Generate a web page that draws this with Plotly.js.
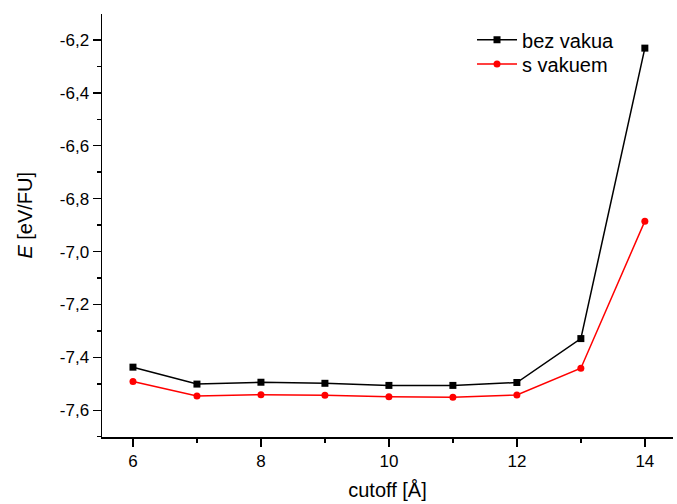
<!DOCTYPE html>
<html>
<head>
<meta charset="utf-8">
<script src="https://cdn.plot.ly/plotly-3.0.1.min.js"></script>
<style>html,body{margin:0;padding:0;background:#fff;}#chart{width:677px;height:504px;}</style>
</head>
<body>
<div id="chart"></div>
<script>
const cutoff = [6, 7, 8, 9, 10, 11, 12, 13, 14];
const bezVakua = [-7.437, -7.501, -7.494, -7.498, -7.506, -7.506, -7.495, -7.329, -6.231];
const sVakuem = [-7.491, -7.546, -7.541, -7.543, -7.549, -7.551, -7.542, -7.441, -6.885];
const yTickVals = [-7.6, -7.4, -7.2, -7.0, -6.8, -6.6, -6.4, -6.2];
const yTickText = ['-7,6', '-7,4', '-7,2', '-7,0', '-6,8', '-6,6', '-6,4', '-6,2'];
const xTickVals = [6, 8, 10, 12, 14];
const xTickText = ['6', '8', '10', '12', '14'];

const xRange = [5.516, 14.44];
const yRange = [-7.701, -6.102];
const font = 'Liberation Sans, Arial, sans-serif';

const traces = [
  {x: cutoff, y: bezVakua, name: 'bez vakua', mode: 'lines+markers', legend: 'legend',
   line: {color: '#000000', width: 1.5}, marker: {symbol: 'square', size: 7, color: '#000000'}},
  {x: cutoff, y: sVakuem, name: 's vakuem', mode: 'lines+markers', legend: 'legend2',
   line: {color: '#ff0000', width: 1.5}, marker: {symbol: 'circle', size: 7, color: '#ff0000'}}
];

const legendBase = {xanchor: 'left', yanchor: 'top', bgcolor: 'rgba(0,0,0,0)',
  font: {family: font, size: 20, color: '#000'}, itemwidth: 40};

const layout = {
  width: 677, height: 504,
  margin: {l: 101.7, r: 4, t: 14, b: 67.3, pad: 0},
  paper_bgcolor: '#ffffff', plot_bgcolor: '#ffffff',
  font: {family: font, size: 17, color: '#000000'},
  showlegend: true,
  legend: Object.assign({x: 0.648, y: 0.985}, legendBase),
  legend2: Object.assign({x: 0.648, y: 0.928}, legendBase),
  xaxis: {
    range: xRange, showgrid: false, zeroline: false, showline: true, linecolor: '#000', linewidth: 1.5,
    ticks: 'outside', ticklen: 8, tickwidth: 1.5, tickcolor: '#000',
    tickvals: xTickVals, ticktext: xTickText,
    minor: {dtick: 1, tick0: 0, ticks: 'outside', ticklen: 4, tickwidth: 1.5, tickcolor: '#000', showgrid: false},
    tickfont: {family: font, size: 17},
    automargin: false,
    title: {text: 'cutoff [Å]', font: {family: font, size: 20}, standoff: 13}
  },
  xaxis2: {
    overlaying: 'x', side: 'top', anchor: 'y', range: xRange, showgrid: false, zeroline: false,
    showline: true, linecolor: '#777', linewidth: 1,
    ticks: 'outside', ticklen: 9, tickwidth: 1, tickcolor: '#777',
    tickvals: xTickVals, showticklabels: false,
    minor: {dtick: 1, tick0: 0, ticks: 'outside', ticklen: 5, tickwidth: 1, tickcolor: '#777', showgrid: false}
  },
  yaxis: {
    range: yRange, showgrid: false, zeroline: false, showline: true, linecolor: '#000', linewidth: 1.5,
    ticks: 'outside', ticklen: 8, tickwidth: 1.5, tickcolor: '#000',
    tickvals: yTickVals, ticktext: yTickText,
    minor: {dtick: 0.1, tick0: 0, ticks: 'outside', ticklen: 4, tickwidth: 1.5, tickcolor: '#000', showgrid: false},
    tickfont: {family: font, size: 17},
    automargin: false
  },
  yaxis2: {
    overlaying: 'y', side: 'right', anchor: 'x', range: yRange, showgrid: false, zeroline: false,
    showline: true, linecolor: '#777', linewidth: 1, ticks: '', showticklabels: false
  },
  annotations: [{
    text: '<i>E</i> [eV/FU]', xref: 'paper', yref: 'paper', x: -0.134, y: 0.5245,
    xanchor: 'center', yanchor: 'middle', textangle: -90, showarrow: false,
    font: {family: font, size: 20, color: '#000'}
  }]
};

Plotly.newPlot('chart', traces, layout, {displayModeBar: false, staticPlot: true});
</script>
</body>
</html>
